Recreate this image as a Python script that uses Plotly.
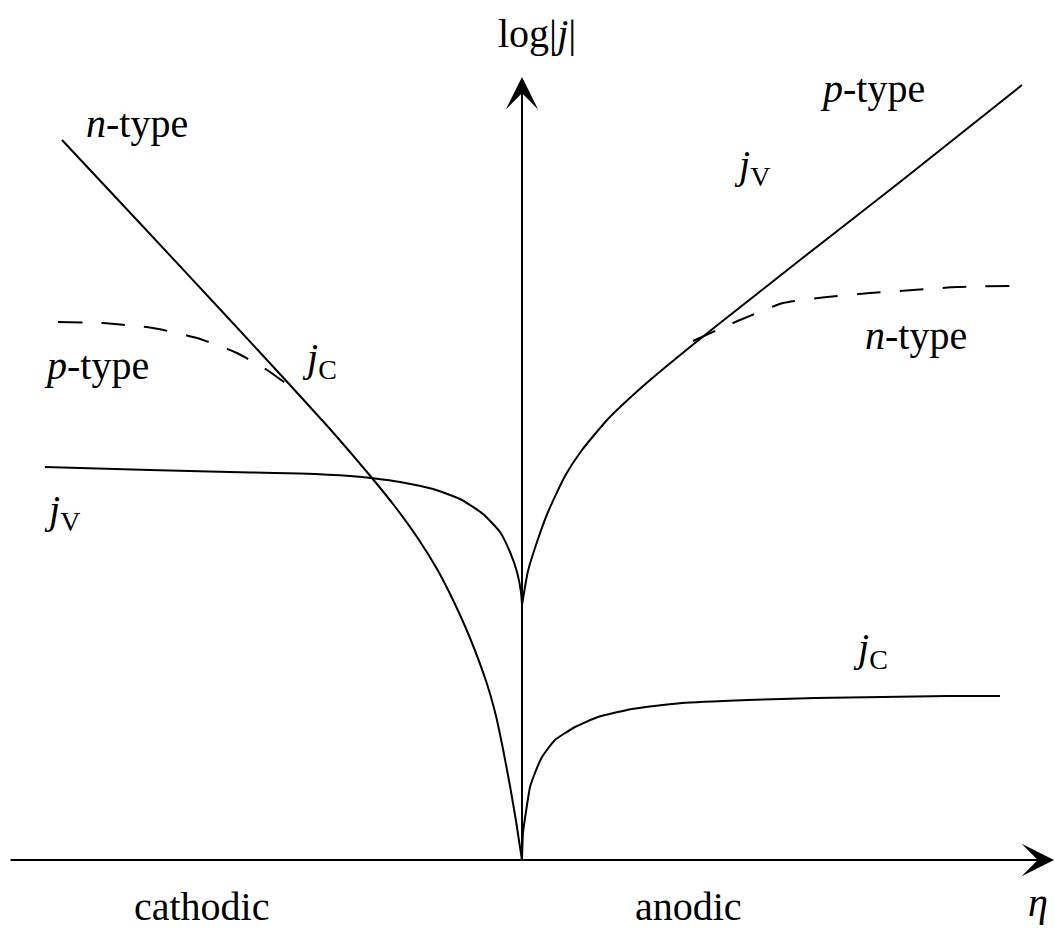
import plotly.graph_objects as go

# Schematic log|j| vs overpotential eta for a semiconductor electrode.
# eta and log|j| are in arbitrary units; origin at the axes crossing.

# Conduction-band current, cathodic branch (n-type, solid)
jc_cath_eta = [-4.60, -3.72, -2.92, -2.32, -1.92, -1.72, -1.55, -1.29, -1.05,
               -0.85, -0.69, -0.52, -0.35, -0.26, -0.19, -0.12, -0.06, 0.00]
jc_cath_log = [7.20, 6.26, 5.40, 4.75, 4.31, 4.08, 3.88, 3.56, 3.23,
               2.91, 2.60, 2.22, 1.76, 1.44, 1.11, 0.74, 0.39, 0.00]

# Conduction-band current, cathodic branch (p-type, dashed)
jc_cath_p_eta = [-4.64, -4.19, -3.69, -3.25, -2.85, -2.55, -2.34]
jc_cath_p_log = [5.38, 5.37, 5.32, 5.22, 5.07, 4.90, 4.75]

# Valence-band current, cathodic branch
jv_cath_eta = [-4.77, -3.72, -2.72, -2.22, -1.72, -1.47, -1.22, -0.89, -0.62,
               -0.39, -0.22, -0.12, -0.05, -0.01, 0.00]
jv_cath_log = [3.93, 3.90, 3.875, 3.865, 3.84, 3.815, 3.78, 3.71, 3.61,
               3.46, 3.28, 3.08, 2.88, 2.68, 2.55]

# Valence-band current, anodic branch (p-type, solid)
jv_anod_eta = [0.00, 0.06, 0.16, 0.26, 0.43, 0.60, 0.86, 1.20, 1.46,
               1.73, 1.93, 2.78, 3.78, 5.00]
jv_anod_log = [2.55, 2.89, 3.21, 3.48, 3.84, 4.10, 4.41, 4.73, 4.95,
               5.17, 5.33, 6.00, 6.78, 7.75]

# Valence-band current, anodic branch (n-type, dashed)
jv_anod_n_eta = [1.71, 2.18, 2.61, 3.05, 3.48, 3.91, 4.35, 4.88]
jv_anod_n_log = [5.19, 5.40, 5.57, 5.63, 5.67, 5.70, 5.73, 5.74]

# Conduction-band current, anodic branch
jc_anod_eta = [0.00, 0.01, 0.05, 0.08, 0.11, 0.20, 0.33, 0.53, 0.76,
               1.10, 1.60, 2.26, 2.93, 3.60, 4.26, 4.78]
jc_anod_log = [0.00, 0.27, 0.55, 0.73, 0.82, 1.03, 1.20, 1.33, 1.43,
               1.51, 1.57, 1.60, 1.62, 1.63, 1.64, 1.64]

# Axis extents (tail -> tip)
eta_axis = [-5.13, 5.32]
log_axis = [0.0, 7.83]

# Text labels: (text, eta, log|j|)
labels = [
    ("log|<i>j</i>|", 0.15, 8.27),
    ("<i>n</i>-type", -3.85, 7.37),
    ("<i>p</i>-type", 3.50, 7.72),
    ("<i>n</i>-type", 3.94, 5.25),
    ("<i>p</i>-type", -4.26, 4.95),
    ("<i>j</i><sub>C</sub>", -2.03, 5.00),
    ("<i>j</i><sub>V</sub>", -4.60, 3.48),
    ("<i>j</i><sub>V</sub>", 2.30, 6.93),
    ("<i>j</i><sub>C</sub>", 3.48, 2.10),
    ("cathodic", -3.20, -0.46),
    ("anodic", 1.66, -0.46),
    ("<i>η</i>", 5.16, -0.42),
]

SERIF = '"Liberation Serif", "Times New Roman", Times, serif'
solid = dict(color="black", width=2)
dashed = dict(color="black", width=2, dash="24px,19px")

fig = go.Figure()
for xs, ys, ln in [
    (jc_cath_eta, jc_cath_log, solid),
    (jc_cath_p_eta, jc_cath_p_log, dashed),
    (jv_cath_eta, jv_cath_log, solid),
    (jv_anod_eta, jv_anod_log, solid),
    (jv_anod_n_eta, jv_anod_n_log, dashed),
    (jc_anod_eta, jc_anod_log, solid),
]:
    fig.add_trace(go.Scatter(x=xs, y=ys, mode="lines",
                             line=dict(shape="spline", smoothing=0.5, **ln),
                             hoverinfo="skip"))

# Axes with arrowheads
arrow = dict(text="", showarrow=True, arrowhead=3, arrowsize=2.7,
             arrowwidth=2, arrowcolor="black", xref="x", yref="y",
             axref="x", ayref="y", standoff=0)
fig.add_annotation(x=eta_axis[1], y=0, ax=eta_axis[0], ay=0, **arrow)
fig.add_annotation(x=0, y=log_axis[1], ax=0, ay=log_axis[0], **arrow)

for txt, x, y in labels:
    fig.add_annotation(x=x, y=y, text=txt, showarrow=False,
                       xref="x", yref="y", xanchor="center", yanchor="middle",
                       font=dict(family=SERIF, size=40, color="black"))

fig.update_layout(
    width=1055, height=929,
    margin=dict(l=0, r=0, t=0, b=0),
    paper_bgcolor="white", plot_bgcolor="white",
    showlegend=False,
    font=dict(family=SERIF, size=40, color="black"),
    xaxis=dict(range=[-5.22, 5.33], visible=False, fixedrange=True),
    yaxis=dict(range=[-0.69, 8.60], visible=False, fixedrange=True),
)

fig.write_html("out.html")
